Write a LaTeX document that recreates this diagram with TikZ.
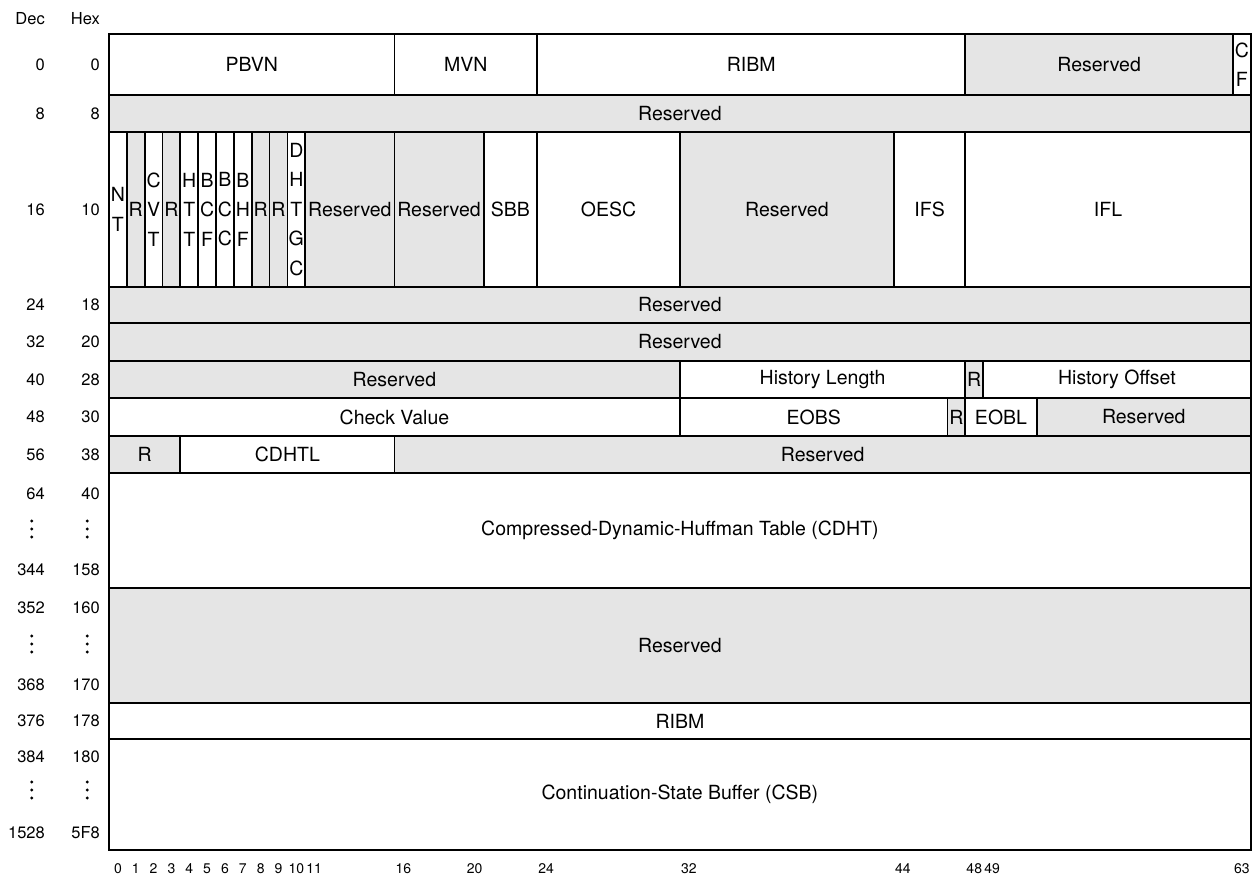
\documentclass[tikz,border=0pt]{standalone}
\usepackage{fontspec}
\setmainfont{TeX Gyre Heros}
\definecolor{resv}{RGB}{229,229,229}
\tikzset{
  wbox/.style={draw=black, line width=1.8pt, fill=white},
  gbox/.style={draw=black, line width=1.8pt, fill=resv},
  lbl/.style={font=\fontsize{19.5}{29.5}\selectfont, inner sep=0pt, align=center},
  num/.style={font=\fontsize{16.5}{20}\selectfont, anchor=east, inner sep=0pt},
  bitlbl/.style={font=\fontsize{14}{16}\selectfont, inner sep=0pt},
  vdot/.style={fill=black, draw=none},
}
% #1 style, #2 name, #3 first bit, #4 end bit, #5 top y, #6 bottom y, #7 text
\newcommand\fieldbox[7]{%
  \path[#1] ({109+17.84*#3},{-#5}) rectangle ({109+17.84*#4},{-#6});
  \node[lbl,name=#2] at ({109+17.84*(#3+#4)/2},{-(#5+#6)/2}) {#7};}
\newcommand\rowlbl[3]{%
  \node[num,name=dec#1] at (45,{-#3}) {#1};
  \node[num,name=hex#1] at (100,{-#3}) {#2};}
\newcommand\vdotlbl[1]{%
  \foreach \d in {-8,0,8} {
    \fill[vdot] (31.7,{-#1+\d}) circle (1.6);
    \fill[vdot] (87.3,{-#1+\d}) circle (1.6);}}
\newcommand\bitmark[1]{\node[bitlbl,name=bit#1] at ({109+17.84*(#1+0.5)},-869) {#1};}
\begin{document}
\begin{tikzpicture}[x=1pt,y=1pt]
\useasboundingbox (0,0) rectangle (1256,-879);
% headers
\node[num,name=hdec] at (45,-19) {Dec};
\node[num,name=hhex] at (100,-19) {Hex};
% row 0
\fieldbox{wbox}{pbvn}{0}{16}{34}{95}{PBVN}
\fieldbox{wbox}{mvn}{16}{24}{34}{95}{MVN}
\fieldbox{wbox}{ribma}{24}{48}{34}{95}{RIBM}
\fieldbox{gbox}{res0}{48}{63}{34}{95}{Reserved}
\fieldbox{wbox}{cf}{63}{64}{34}{95}{\fontsize{19.5}{25}\selectfont C\\F}
% row 8
\fieldbox{gbox}{res8}{0}{64}{95}{132}{Reserved}
% row 16
\fieldbox{wbox}{nt}{0}{1}{132}{287}{\fontsize{19.5}{21}\selectfont N\\T}
\fieldbox{gbox}{ra}{1}{2}{132}{287}{R}
\fieldbox{wbox}{cvt}{2}{3}{132}{287}{C\\V\\T}
\fieldbox{gbox}{rb}{3}{4}{132}{287}{R}
\fieldbox{wbox}{htt}{4}{5}{132}{287}{H\\T\\T}
\fieldbox{wbox}{bcf}{5}{6}{132}{287}{B\\C\\F}
\fieldbox{wbox}{bcc}{6}{7}{132}{287}{B\\C\\C}
\fieldbox{wbox}{bhf}{7}{8}{132}{287}{B\\H\\F}
\fieldbox{gbox}{rc}{8}{9}{132}{287}{R}
\fieldbox{gbox}{rd}{9}{10}{132}{287}{R}
\fieldbox{wbox}{dhtgc}{10}{11}{132}{287}{D\\H\\T\\G\\C}
\fieldbox{gbox}{res16a}{11}{16}{132}{287}{Reserved}
\fieldbox{gbox}{res16b}{16}{21}{132}{287}{Reserved}
\fieldbox{wbox}{sbb}{21}{24}{132}{287}{SBB}
\fieldbox{wbox}{oesc}{24}{32}{132}{287}{OESC}
\fieldbox{gbox}{res16c}{32}{44}{132}{287}{Reserved}
\fieldbox{wbox}{ifs}{44}{48}{132}{287}{IFS}
\fieldbox{wbox}{ifl}{48}{64}{132}{287}{IFL}
% rows 24, 32
\fieldbox{gbox}{res24}{0}{64}{287}{323}{Reserved}
\fieldbox{gbox}{res32}{0}{64}{323}{361}{Reserved}
% row 40
\fieldbox{gbox}{res40}{0}{32}{361}{398}{Reserved}
\fieldbox{wbox}{hlen}{32}{48}{361}{398}{History Length}
\fieldbox{gbox}{re}{48}{49}{361}{398}{R}
\fieldbox{wbox}{hoff}{49}{64}{361}{398}{History Offset}
% row 48
\fieldbox{wbox}{chk}{0}{32}{398}{436}{Check Value}
\fieldbox{wbox}{eobs}{32}{47}{398}{436}{EOBS}
\fieldbox{gbox}{rf}{47}{48}{398}{436}{R}
\fieldbox{wbox}{eobl}{48}{52}{398}{436}{EOBL}
\fieldbox{gbox}{res48}{52}{64}{398}{436}{Reserved}
% row 56
\fieldbox{gbox}{rg}{0}{4}{436}{473}{R}
\fieldbox{wbox}{cdhtl}{4}{16}{436}{473}{CDHTL}
\fieldbox{gbox}{res56}{16}{64}{436}{473}{Reserved}
% big rows
\fieldbox{wbox}{cdht}{0}{64}{473}{588}{Compressed-Dynamic-Huffman Table (CDHT)}
\fieldbox{gbox}{res352}{0}{64}{588}{703}{Reserved}
\fieldbox{wbox}{ribmb}{0}{64}{703}{739}{RIBM}
\fieldbox{wbox}{csb}{0}{64}{739}{850}{Continuation-State Buffer (CSB)}
% row labels
\rowlbl{0}{0}{64.5}
\rowlbl{8}{8}{113.5}
\rowlbl{16}{10}{210}
\rowlbl{24}{18}{305}
\rowlbl{32}{20}{342}
\rowlbl{40}{28}{379.5}
\rowlbl{48}{30}{417}
\rowlbl{56}{38}{454.5}
\rowlbl{64}{40}{494}
\vdotlbl{529}
\rowlbl{344}{158}{570}
\rowlbl{352}{160}{608}
\vdotlbl{644}
\rowlbl{368}{170}{685}
\rowlbl{376}{178}{721}
\rowlbl{384}{180}{757}
\vdotlbl{790}
\rowlbl{1528}{5F8}{833}
% bit labels
\foreach \k in {0,1,2,3,4,5,6,7,8,9,10,11,16,20,24,32,44,48,49,63} {\bitmark{\k}}
\end{tikzpicture}
\end{document}
